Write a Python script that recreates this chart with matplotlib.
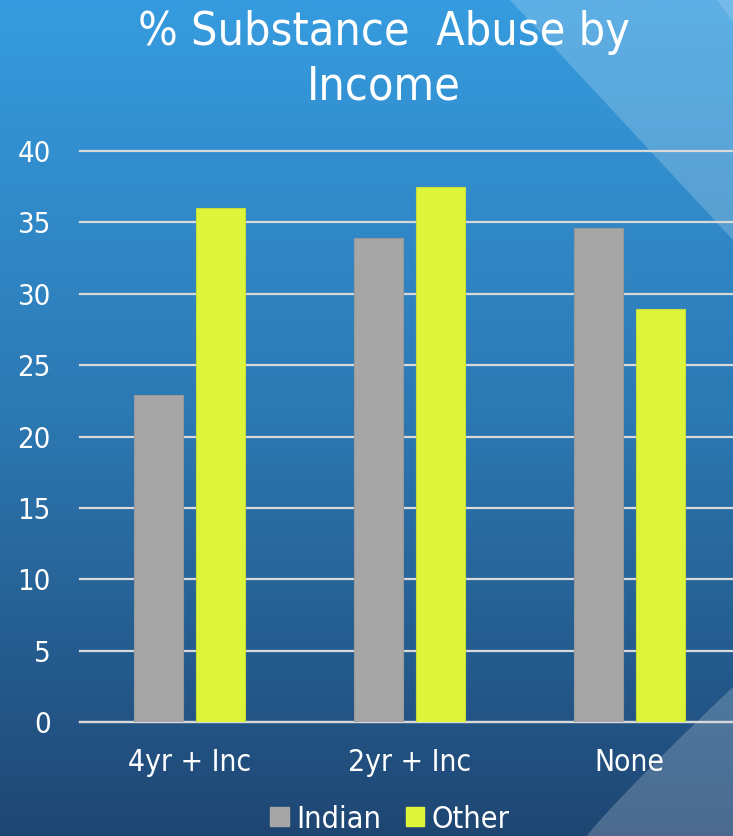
import numpy as np
import matplotlib.pyplot as plt
from matplotlib.patches import Polygon, Rectangle

categories = ["4yr + Inc", "2yr + Inc", "None"]
indian = [22.9, 33.9, 34.6]
other = [36.0, 37.5, 28.9]
series_names = ["Indian", "Other"]
y_ticks = [0, 5, 10, 15, 20, 25, 30, 35, 40]

plt.rcParams["font.family"] = ["DejaVu Sans"]
plt.rcParams["font.stretch"] = "condensed"

W, H = 733, 836
fig = plt.figure(figsize=(W / 100, H / 100), dpi=100)

# background gradient
bg = fig.add_axes([0, 0, 1, 1], zorder=0)
bg.set_axis_off()
top = np.array([54, 156, 223]) / 255
mid = np.array([44, 120, 178]) / 255
bot = np.array([31, 70, 115]) / 255
t = np.linspace(0, 1, 400)[:, None]
grad = np.where(t < 0.5, top + (mid - top) * (t / 0.5), mid + (bot - mid) * ((t - 0.5) / 0.5))
bg.imshow(grad[:, None, :].repeat(2, axis=1), aspect="auto", extent=[0, W, H, 0])
bg.set_xlim(0, W)
bg.set_ylim(H, 0)

# light swooshes on the right
bg.add_patch(Polygon([[510, 0], [733, 0], [733, 240]], closed=True,
                     facecolor="white", alpha=0.2, edgecolor="none"))
bg.add_patch(Polygon([[717, 0], [733, 0], [733, 22]], closed=True,
                     facecolor="white", alpha=0.15, edgecolor="none"))
th = np.linspace(0, 1, 50)
cx = 587 + (733 - 587) * th
cy = 836 - (836 - 687) * th ** 0.93
pts = list(zip(cx, cy)) + [(733, 836)]
bg.add_patch(Polygon(pts, closed=True, facecolor="white", alpha=0.2, edgecolor="none"))

# chart axes
ax = fig.add_axes([80 / W, 114 / H, 659 / W, 571 / H], zorder=1)
ax.patch.set_alpha(0)
x = np.arange(len(categories))
w = 0.223
off = 0.141
ax.bar(x - off, indian, w, color="#a6a6a6", edgecolor="#999999", linewidth=0.8,
       label=series_names[0], zorder=3)
ax.bar(x + off, other, w, color="#ddf53a", edgecolor="#c8dc3a", linewidth=0.8,
       label=series_names[1], zorder=3)

ax.set_xlim(-0.5, 2.5)
ax.set_ylim(0, 40)
ax.set_yticks(y_ticks)
ax.set_xticks(x)
ax.set_xticklabels(categories)
ax.yaxis.grid(True, color="#d9d9d9", linewidth=1.6, zorder=1)
for gl in ax.get_ygridlines():
    gl.set_clip_on(False)
ax.set_axisbelow(True)
for s in ["top", "right", "left"]:
    ax.spines[s].set_visible(False)
ax.spines["bottom"].set_color("#d9d9d9")
ax.spines["bottom"].set_linewidth(1.6)
ax.tick_params(axis="y", length=0, colors="white", labelsize=21, pad=21)
ax.tick_params(axis="x", length=0, colors="white", labelsize=21.5, pad=19)

fig.text(384 / W, 1 - 60 / H, "% Substance  Abuse by\nIncome", ha="center",
         va="center", color="white", fontsize=33.5, linespacing=1.27)

handles = [Rectangle((0, 0), 1, 1, color="#a6a6a6"), Rectangle((0, 0), 1, 1, color="#ddf53a")]
fig.legend(handles, series_names, loc="center", bbox_to_anchor=(390 / W, 1 - 819 / H),
           ncol=2, frameon=False, fontsize=22, labelcolor="white",
           handlelength=0.6, handleheight=0.6, handletextpad=0.25, columnspacing=0.8,
           borderpad=0.1)

fig.savefig("out.png", dpi=100)
